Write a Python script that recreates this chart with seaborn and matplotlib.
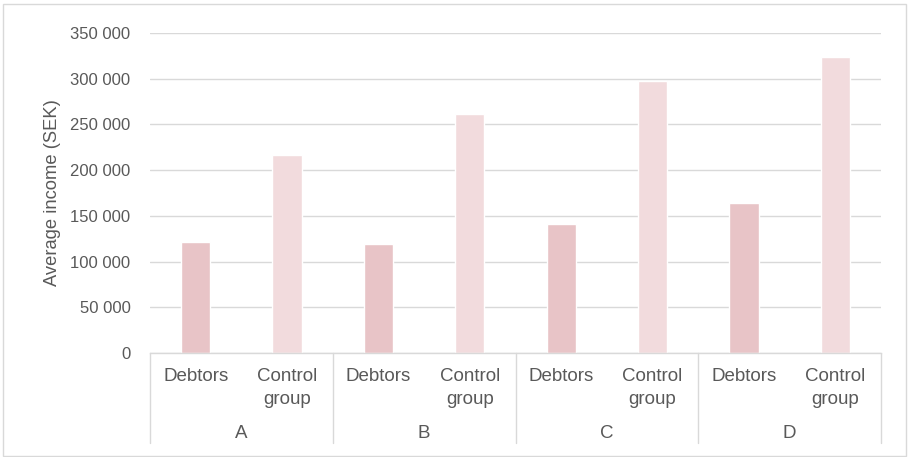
import matplotlib
matplotlib.use("Agg")
import matplotlib.pyplot as plt
import matplotlib.transforms as mtransforms
from matplotlib.patches import Rectangle
from matplotlib.lines import Line2D
import seaborn as sns
import pandas as pd

# Data
regions = ["A", "B", "C", "D"]
groups = ["Debtors", "Control group"]
debtors_income = [121500, 119500, 141000, 164000]
control_income = [216500, 261500, 297500, 324000]
y_ticks = [0, 50000, 100000, 150000, 200000, 250000, 300000, 350000]

rows = []
for r, d, c in zip(regions, debtors_income, control_income):
    rows.append({"slot": f"{r} Debtors", "region": r, "group": "Debtors", "income": d})
    rows.append({"slot": f"{r} Control group", "region": r, "group": "Control group", "income": c})
df = pd.DataFrame(rows)

sns.set_theme(style="white")
plt.rcParams["font.family"] = ["Liberation Sans", "DejaVu Sans"]

TEXT = "#595959"
LINE = "#D9D9D9"
palette = {"Debtors": "#E8C4C7", "Control group": "#F2DBDD"}

fig = plt.figure(figsize=(9.09, 4.57), dpi=100)
ax = fig.add_axes([150 / 909, 1 - 353 / 457, 731 / 909, 320 / 457])

sns.barplot(data=df, x="slot", y="income", hue="group", palette=palette,
            dodge=False, width=0.32, order=list(df["slot"]), legend=False,
            saturation=1, ax=ax)

ax.set_xlim(-0.5, len(df) - 0.5)
ax.set_ylim(0, 350000)
ax.set_yticks(y_ticks)
ax.set_yticklabels([f"{v:,}".replace(",", " ") for v in y_ticks])
ax.grid(axis="y", color=LINE, linewidth=1.0)
ax.set_axisbelow(True)
for s in ["top", "right", "left"]:
    ax.spines[s].set_visible(False)
ax.spines["bottom"].set_color(LINE)
ax.spines["bottom"].set_linewidth(1.0)

ax.set_xticks(range(len(df)))
ax.set_xticklabels(["Debtors", "Control\ngroup"] * len(regions),
                   linespacing=1.45)
ax.tick_params(axis="x", length=0, pad=11, labelsize=13.5, colors=TEXT)
ax.tick_params(axis="y", length=0, pad=14, labelsize=12, colors=TEXT)
ax.set_xlabel("")
ax.set_ylabel("Average income (SEK)", fontsize=13.2, color=TEXT, labelpad=7)

# Outer category labels and separators
blend = mtransforms.blended_transform_factory(ax.transData, ax.transAxes)
sep_bottom = -(443 - 353) / 320
for i, r in enumerate(regions):
    ax.text(2 * i + 0.5, -(433 - 353) / 320, r, transform=blend,
            ha="center", va="center", fontsize=13.5, color=TEXT)
for k in range(len(regions) + 1):
    ax.add_line(Line2D([2 * k - 0.5, 2 * k - 0.5], [0, sep_bottom],
                       transform=blend, color=LINE, linewidth=1.0,
                       clip_on=False))

# Chart border
fig.patches.append(Rectangle((3 / 909, 1.5 / 457), 903 / 909, 452 / 457,
                             transform=fig.transFigure, fill=False,
                             edgecolor=LINE, linewidth=1.0))

fig.savefig("out.png", dpi=100)
